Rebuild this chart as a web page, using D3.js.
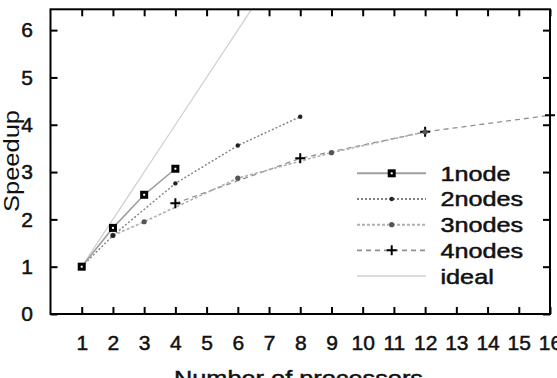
<!DOCTYPE html>
<html>
<head>
<meta charset="utf-8">
<script src="https://cdn.jsdelivr.net/npm/d3@7"></script>
<style>
html,body{margin:0;padding:0;background:#fff;}
svg{display:block;}
text{font-family:"Liberation Sans",Arial,sans-serif;fill:#111;}
</style>
</head>
<body>
<svg id="chart" width="557" height="378"></svg>
<script>
// ---- data ----
const xTicks = [1,2,3,4,5,6,7,8,9,10,11,12,13,14,15,16];
const yTicks = [0,1,2,3,4,5,6];

const node1X = [1,2,3,4];
const node1Y = [1.0,1.82,2.52,3.07];

const nodes2X = [1,2,4,6,8];
const nodes2Y = [1.0,1.66,2.76,3.56,4.17];

const nodes3X = [2,3,6,9,12];
const nodes3Y = [1.66,1.95,2.87,3.41,3.85];

const nodes4X = [4,8,12,16];
const nodes4Y = [2.34,3.29,3.85,4.2];

const idealX = [1,2,4,8,16];
const idealY = [1,2,4,8,16];

const seriesNames = ["1node","2nodes","3nodes","4nodes","ideal"];
const xTitle = "Number of processors";
const yTitle = "Speedup";

// ---- drawing ----
const svg = d3.select("#chart");
const L = 50.5, R = 550, T = 9.3, B = 314;
const x = d3.scaleLinear().domain([0,16]).range([L,R]);
const y = d3.scaleLinear().domain([0,6.44]).range([B,T]);

svg.append("defs").append("clipPath").attr("id","clip")
  .append("rect").attr("x",L).attr("y",T).attr("width",R-L).attr("height",B-T);

const styles = [
  {color:"#a0a0a0", width:1.6, dash:null, marker:"square"},
  {color:"#808080", width:1.4, dash:"2,2", marker:"dot"},
  {color:"#b0b0b0", width:1.6, dash:"3,2", marker:"gdot"},
  {color:"#909090", width:1.3, dash:"5,4", marker:"plus"},
  {color:"#d0d0d0", width:1.3, dash:null, marker:null}
];

const allSeries = [
  {x:node1X, y:node1Y},
  {x:nodes2X, y:nodes2Y},
  {x:nodes3X, y:nodes3Y},
  {x:nodes4X, y:nodes4Y},
  {x:idealX, y:idealY}
];

function drawMarker(g, kind, cx, cy){
  if(kind==="square"){
    g.append("rect").attr("x",cx-4).attr("y",cy-4).attr("width",8).attr("height",8).attr("fill","#000");
    g.append("rect").attr("x",cx-1).attr("y",cy-1).attr("width",2).attr("height",2).attr("fill","#fff");
  } else if(kind==="dot"){
    g.append("circle").attr("cx",cx).attr("cy",cy).attr("r",2.2).attr("fill","#222");
  } else if(kind==="gdot"){
    g.append("circle").attr("cx",cx).attr("cy",cy).attr("r",2.6).attr("fill","#555");
  } else if(kind==="plus"){
    g.append("path").attr("d",`M${cx-5},${cy}H${cx+5}M${cx},${cy-5}V${cy+5}`)
      .attr("stroke","#000").attr("stroke-width",2);
  }
}

const plot = svg.append("g").attr("clip-path","url(#clip)");
const line = d3.line().x(d=>x(d[0])).y(d=>y(d[1]));
[4,3,2,1,0].forEach(i=>{
  const s = allSeries[i], st = styles[i];
  const pts = s.x.map((v,k)=>[v,s.y[k]]);
  plot.append("path").attr("d",line(pts)).attr("fill","none")
    .attr("stroke",st.color).attr("stroke-width",st.width)
    .attr("stroke-dasharray",st.dash);
});
const mg = svg.append("g");
[3,2,1,0].forEach(i=>{
  const s = allSeries[i], st = styles[i];
  s.x.forEach((v,k)=>drawMarker(mg, st.marker, x(v), y(s.y[k])));
});

// axes
const fs = 21;
const axB = svg.append("g").attr("transform",`translate(0,${B})`)
  .call(d3.axisBottom(x).tickValues(xTicks).tickSize(-7).tickPadding(21).tickFormat(d3.format("d")));
const axT = svg.append("g").attr("transform",`translate(0,${T})`)
  .call(d3.axisTop(x).tickValues(xTicks).tickSize(-7).tickFormat(""));
const axL = svg.append("g").attr("transform",`translate(${L},0)`)
  .call(d3.axisLeft(y).tickValues(yTicks).tickSize(-7).tickPadding(17.5).tickFormat(d3.format("d")));
const axRt = svg.append("g").attr("transform",`translate(${R},0)`)
  .call(d3.axisRight(y).tickValues(yTicks).tickSize(-7).tickFormat(""));
[axB,axT,axL,axRt].forEach(a=>{
  a.select(".domain").remove();
  a.selectAll(".tick line").attr("stroke","#000").attr("stroke-width",2);
  a.selectAll("text").attr("font-size",fs).attr("font-family",'"Liberation Sans",Arial,sans-serif')
    .attr("fill","#111").attr("stroke","#111").attr("stroke-width",0.5);
});

// frame
svg.append("rect").attr("x",L).attr("y",T).attr("width",R-L).attr("height",B-T)
  .attr("fill","none").attr("stroke","#000").attr("stroke-width",2);

// titles
svg.append("text").attr("x",298.5).attr("y",386).attr("text-anchor","middle")
  .attr("font-size",22).attr("stroke","#111").attr("stroke-width",0.5)
  .attr("textLength",249).attr("lengthAdjust","spacingAndGlyphs").text(xTitle);
svg.append("text").attr("transform","translate(19,161) rotate(-90)").attr("text-anchor","middle")
  .attr("font-size",22).attr("fill","#333")
  .attr("textLength",102).attr("lengthAdjust","spacingAndGlyphs").text(yTitle);

// legend
const legY = d3.scalePoint().domain(seriesNames).range([173.3,276]);
const lg = svg.append("g");
seriesNames.forEach((name,i)=>{
  const st = styles[i];
  const yy = legY(name);
  lg.append("line").attr("x1",357).attr("x2",426).attr("y1",yy).attr("y2",yy)
    .attr("stroke",st.color).attr("stroke-width",st.width+0.4).attr("stroke-dasharray",st.dash);
  if(st.marker) drawMarker(lg, st.marker, 391.7, yy);
  const t = lg.append("text").attr("x",440.5).attr("y",yy+7.5).attr("font-size",21)
    .attr("stroke","#111").attr("stroke-width",0.5).text(name);
  const w = t.node().getComputedTextLength();
  t.attr("textLength",w*1.2).attr("lengthAdjust","spacingAndGlyphs");
});
</script>
</body>
</html>
